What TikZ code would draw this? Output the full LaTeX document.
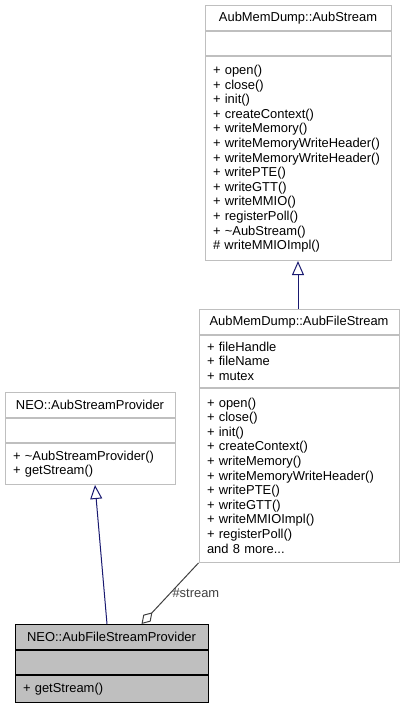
\documentclass[tikz,border=0pt]{standalone}
\usepackage{fontspec}
\setmainfont{Liberation Sans}
\usepackage{tikz}
\usetikzlibrary{arrows.meta,positioning,calc}
\definecolor{boxgrey}{RGB}{191,191,191}
\definecolor{edgeblue}{RGB}{25,25,112}
\definecolor{edgegrey}{RGB}{64,64,64}

\begin{document}
\begin{tikzpicture}[
    x=0.75pt, y=-0.75pt,
    cls/.style={rectangle, draw=boxgrey, fill=white, line width=0.75pt, inner sep=0pt, font=\fontsize{9.7}{10.95}\selectfont},
    head/.style={cls, minimum height=18.5pt, align=center},
    blank/.style={cls, minimum height=18.5pt},
    members/.style={cls, align=left, inner xsep=6pt},
    hl/.style={fill=boxgrey, draw=black},
    inherit/.style={{Triangle[open,length=10.5pt,width=9pt]}-, edgeblue, line width=0.75pt},
    aggr/.style={{Diamond[open,length=12pt,width=7.5pt]}-, edgegrey, line width=0.75pt},
    elab/.style={font=\fontsize{9.7}{10.95}\selectfont, inner sep=1.5pt}
]
\useasboundingbox (0,0) rectangle (405,707);

% ============ AubMemDump::AubStream ============
\node[head, minimum width=139.5pt, anchor=north] (as-title) at (298,5) {AubMemDump::AubStream};
\node[blank, minimum width=139.5pt, below=0pt of as-title] (as-attr) {};
\node[members, text width=127.5pt, minimum height=152.8pt, below=0pt of as-attr] (as-ops) {
    + open()\\
    + close()\\
    + init()\\
    + createContext()\\
    + writeMemory()\\
    + writeMemoryWriteHeader()\\
    + writeMemoryWriteHeader()\\
    + writePTE()\\
    + writeGTT()\\
    + writeMMIO()\\
    + registerPoll()\\
    + \textasciitilde AubStream()\\
    \# writeMMIOImpl()
};

% ============ AubMemDump::AubFileStream ============
\node[head, minimum width=150pt, anchor=north] (fs-title) at (299,309) {AubMemDump::AubFileStream};
\node[members, text width=138pt, minimum height=39.2pt, below=0pt of fs-title] (fs-attr) {
    + fileHandle\\
    + fileName\\
    + mutex
};
\node[members, text width=138pt, minimum height=130.5pt, below=0pt of fs-attr] (fs-ops) {
    + open()\\
    + close()\\
    + init()\\
    + createContext()\\
    + writeMemory()\\
    + writeMemoryWriteHeader()\\
    + writePTE()\\
    + writeGTT()\\
    + writeMMIOImpl()\\
    + registerPoll()\\
    and 8 more...
};

% ============ NEO::AubStreamProvider ============
\node[head, minimum width=127.5pt, anchor=north] (asp-title) at (90,392) {NEO::AubStreamProvider};
\node[blank, minimum width=127.5pt, below=0pt of asp-title] (asp-attr) {};
\node[members, text width=115.5pt, minimum height=30.5pt, below=0pt of asp-attr] (asp-ops) {
    + \textasciitilde AubStreamProvider()\\
    + getStream()
};

% ============ NEO::AubFileStreamProvider ============
\node[head, hl, minimum width=144.75pt, anchor=north] (fsp-title) at (111.5,624) {NEO::AubFileStreamProvider};
\node[blank, hl, minimum width=144.75pt, below=0pt of fsp-title] (fsp-attr) {};
\node[members, hl, text width=132.75pt, minimum height=20pt, below=0pt of fsp-attr] (fsp-ops) {
    + getStream()
};

% edges
\draw[inherit] (as-ops.south) -- (as-ops.south |- fs-title.north);
\draw[inherit] ($(asp-ops.south)+(5,0)$) -- ($(fsp-title.north)+(-4.5,0)$);
\draw[aggr] ($(fsp-title.north west)+(127,0)$) -- node[elab, right] {\#stream} (fs-ops.south west);

\end{tikzpicture}
\end{document}
